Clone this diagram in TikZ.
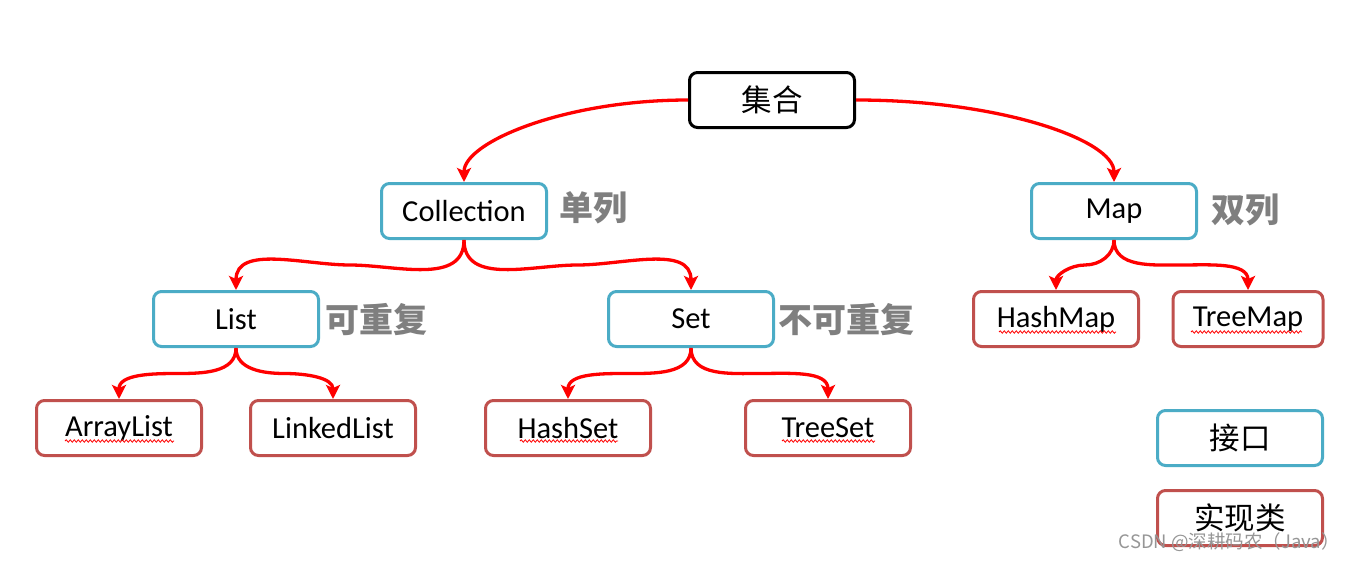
\documentclass[tikz,border=0pt]{standalone}
\usepackage{fontspec}
\setmainfont{Carlito}
\newfontfamily\cjk{Noto Sans CJK SC}
\usetikzlibrary{arrows.meta,calc,decorations.pathmorphing}
\definecolor{ifblue}{RGB}{75,172,198}
\definecolor{imred}{RGB}{192,80,77}
\definecolor{notegray}{RGB}{127,127,127}
\definecolor{wmgray}{RGB}{150,150,150}
\tikzset{
  box/.style={draw, rounded corners=8pt, line width=3pt, minimum width=165pt,
    minimum height=55pt, inner sep=0pt, fill=white, font=\fontsize{30.5}{34}\selectfont},
  iface/.style={box, draw=ifblue},
  impl/.style={box, draw=imred},
  rootbox/.style={box, draw=black},
  note/.style={anchor=west, inner sep=0pt, text=notegray, font=\cjk\bfseries\fontsize{34}{40}\selectfont},
  conn/.style={draw=red, line width=3.3pt, -{Stealth[length=14pt,width=14pt,inset=3pt]}},
  squig/.style={draw=red, line width=0.8pt, decorate, decoration={snake, amplitude=1.2pt, segment length=4pt}},
  wm/.style={anchor=base east, inner sep=0pt, text=wmgray, font=\cjk\fontsize{18.5}{22}\selectfont}
}
\begin{document}
\begin{tikzpicture}[x=1pt,y=-1pt]
\useasboundingbox (0,0) rectangle (1352,560);
% nodes
\node[rootbox] (root) at (772,100) {\cjk 集合};
\node[iface] (coll) at (464,211) {Collection};
\node[iface] (map) at (1114,211) {Map};
\node[iface] (list) at (236,319) {List};
\node[iface] (set) at (691,319) {Set};
\node[impl] (hmap) at (1056,319) {HashMap};
\node[impl, minimum width=150pt] (tmap) at (1248,319) {TreeMap};
\node[impl] (alist) at (119,428) {ArrayList};
\node[impl] (llist) at (333,428) {LinkedList};
\node[impl] (hset) at (568,428) {HashSet};
\node[impl] (tset) at (828,428) {TreeSet};
\node[iface] (legi) at (1240,438) {\cjk 接口};
\node[impl] (legc) at (1240,518) {\cjk 实现类};
% notes
\node[note] (n1) at (559,208) {单列};
\node[note] (n2) at (1211,210) {双列};
\node[note] (n3) at (325,320) {可重复};
\node[note] (n4) at (778,320) {不可重复};
% spelling underlines
\draw[squig] ([xshift=-54pt,yshift=-13pt]alist.center) -- ([xshift=55pt,yshift=-13pt]alist.center);
\draw[squig] ([xshift=-48pt,yshift=-13pt]hset.center) -- ([xshift=50pt,yshift=-13pt]hset.center);
\draw[squig] ([xshift=-46pt,yshift=-13pt]tset.center) -- ([xshift=47pt,yshift=-13pt]tset.center);
\draw[squig] ([xshift=-57pt,yshift=-13pt]hmap.center) -- ([xshift=60pt,yshift=-13pt]hmap.center);
\draw[squig] ([xshift=-57pt,yshift=-13pt]tmap.center) -- ([xshift=54pt,yshift=-13pt]tmap.center);
% connectors
\draw[conn] (root.west) .. controls (565,100) and (464,142) .. (coll.north);
\draw[conn] (root.east) .. controls (1000,100) and (1114,140) .. (map.north);
\foreach \a/\b/\h in {coll/list/0, coll/set/180, list/alist/0, list/llist/180, set/hset/0, set/tset/180, map/hmap/0, map/tmap/180}{
  \coordinate (m-\a-\b) at ($(\a.south)!0.5!(\b.north)$);
  \pgfmathtruncatemacro{\o}{\h+180}
  \draw[conn] (\a.south) to[out=-90,in=\h] (m-\a-\b) to[out=\o,in=90] (\b.north);
}
% watermark
\node[wm] (wmark) at (1340,548) {CSDN @深耕码农（Java）};
\end{tikzpicture}
\end{document}
